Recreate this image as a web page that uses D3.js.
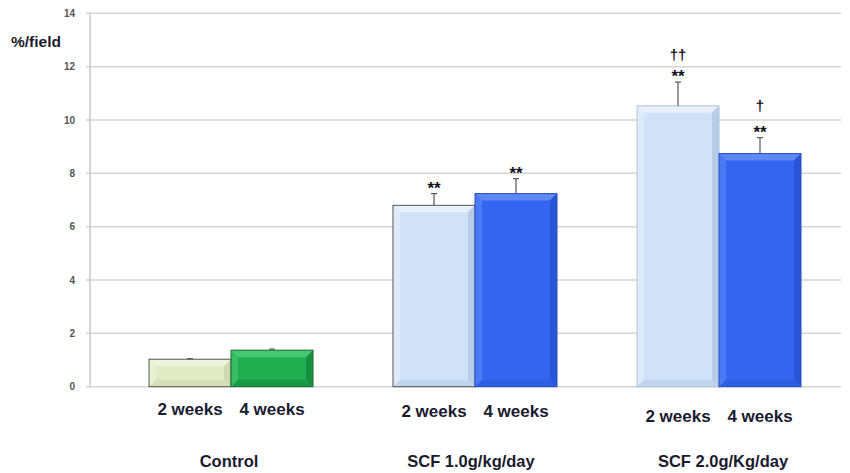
<!DOCTYPE html>
<html><head><meta charset="utf-8">
<script src="https://cdn.jsdelivr.net/npm/d3@7"></script>
<style>body{margin:0;background:#fff}svg{display:block;font-family:Arial,"Liberation Sans",sans-serif}</style>
</head><body>
<svg id="c" width="850" height="473"></svg>
<script>
const groups = ["Control", "SCF 1.0g/kg/day", "SCF 2.0g/Kg/day"];
const subgroups = ["2 weeks", "4 weeks"];
const week2 = [1.03, 6.8, 10.53];
const week4 = [1.37, 7.24, 8.74];
const err2 = [0.02, 0.44, 0.89];
const err4 = [0.04, 0.56, 0.6];
const notes2 = [[], ["**"], ["**", "††"]];
const notes4 = [[], ["**"], ["**", "†"]];
const yTicks = [0, 2, 4, 6, 8, 10, 12, 14];
const yLabel = "%/field";

const palette = {
  "Control|2 weeks": {main:"#e2ebc5", top:"#eff5dc", side:"#cfd9b0", bot:"#d6dfb8", stroke:"#555"},
  "Control|4 weeks": {main:"#1fae50", top:"#48c873", side:"#178f40", bot:"#1a9a46", stroke:"#1a6b36"},
  "SCF 1.0g/kg/day|2 weeks": {main:"#d0e1f8", top:"#e8f0fc", side:"#b8cbe8", bot:"#c2d4ee", stroke:"#555"},
  "SCF 1.0g/kg/day|4 weeks": {main:"#3465f0", top:"#5e88f6", side:"#2a55d4", bot:"#2f5de2", stroke:"#2a50c0"},
  "SCF 2.0g/Kg/day|2 weeks": {main:"#d0e1f8", top:"#e8f0fc", side:"#b8cbe8", bot:"#c2d4ee", stroke:"#b0c4e0"},
  "SCF 2.0g/Kg/day|4 weeks": {main:"#3465f0", top:"#5e88f6", side:"#2a55d4", bot:"#2f5de2", stroke:"#2a50c0"}
};

const data = [];
groups.forEach((g, i) => {
  data.push({g, s: subgroups[0], v: week2[i], e: err2[i], notes: notes2[i]});
  data.push({g, s: subgroups[1], v: week4[i], e: err4[i], notes: notes4[i]});
});

const svg = d3.select("#c");
const y = d3.scaleLinear().domain([0, 14]).range([386.7, 13.3]);
const x0 = d3.scaleBand().domain(groups).range([109, 841]).padding(0);
const x1 = d3.scaleBand().domain(subgroups).range([40, 204]).padding(0);

svg.append("g").selectAll("line").data(yTicks).join("line")
  .attr("x1", 86).attr("x2", 841)
  .attr("y1", d => y(d)).attr("y2", d => y(d))
  .attr("stroke", "#d4d4d4").attr("stroke-width", 1.5);
svg.append("line").attr("x1", 90).attr("x2", 90).attr("y1", y(14)).attr("y2", y(0))
  .attr("stroke", "#c8c8c8").attr("stroke-width", 1.5);
const yAxis = d3.axisLeft(y).tickValues(yTicks).tickSize(0).tickPadding(15);
const ga = svg.append("g").attr("transform", "translate(90,0)").call(yAxis);
ga.select(".domain").remove();
ga.selectAll("text").attr("font-size", 10).attr("font-weight", "bold").attr("fill", "#555")
  .attr("font-family", "Arial, 'Liberation Sans', sans-serif");

svg.append("text").attr("x", 11).attr("y", 47).text(yLabel)
  .attr("font-size", 15.5).attr("font-weight", "bold").attr("fill", "#1b1b30");

const bev = 7;
const bars = svg.append("g").selectAll("g").data(data).join("g");
bars.each(function(d) {
  const gsel = d3.select(this);
  const c = palette[d.g + "|" + d.s];
  const xl = x0(d.g) + x1(d.s), w = x1.bandwidth();
  const yt = y(d.v), yb = y(0), xr = xl + w;
  gsel.append("rect").attr("x", xl).attr("y", yt).attr("width", w).attr("height", yb - yt).attr("fill", c.main);
  gsel.append("polygon").attr("points", [[xl,yt],[xr,yt],[xr-bev,yt+bev],[xl+bev,yt+bev]].join(" ")).attr("fill", c.top);
  gsel.append("polygon").attr("points", [[xr,yt],[xr,yb],[xr-bev,yb-bev],[xr-bev,yt+bev]].join(" ")).attr("fill", c.side);
  gsel.append("polygon").attr("points", [[xl,yb],[xr,yb],[xr-bev,yb-bev],[xl+bev,yb-bev]].join(" ")).attr("fill", c.bot);
  gsel.append("polygon").attr("points", [[xl,yt],[xl+bev,yt+bev],[xl+bev,yb-bev],[xl,yb]].join(" ")).attr("fill", c.top).attr("opacity", 0.6);
  gsel.append("rect").attr("x", xl).attr("y", yt).attr("width", w).attr("height", yb - yt)
    .attr("fill", "none").attr("stroke", c.stroke).attr("stroke-width", 1);
  const cx = xl + w / 2;
  gsel.append("line").attr("x1", cx).attr("x2", cx).attr("y1", yt).attr("y2", y(d.v + d.e))
    .attr("stroke", "#555").attr("stroke-width", 1.2);
  gsel.append("line").attr("x1", cx - 3).attr("x2", cx + 3).attr("y1", y(d.v + d.e)).attr("y2", y(d.v + d.e))
    .attr("stroke", "#555").attr("stroke-width", 1.2);
  const offs = [9, 28];
  d.notes.forEach((t, k) => {
    const off = (d.g === groups[2] && d.s === subgroups[1] && k === 1) ? 33 : offs[k];
    const star = t.startsWith("*");
    gsel.append("text").attr("x", cx).attr("y", y(d.v + d.e) - off + (star ? 9 : 6)).attr("text-anchor", "middle")
      .attr("font-size", star ? 17 : 15).attr("font-weight", "bold").attr("fill", "#111122").text(t);
  });
});

const subY = [409, 411, 416];
groups.forEach((g, i) => {
  subgroups.forEach(s => {
    svg.append("text").attr("x", x0(g) + x1(s) + x1.bandwidth() / 2).attr("y", subY[i])
      .attr("dy", "0.35em").attr("text-anchor", "middle")
      .attr("font-size", 17).attr("font-weight", "bold").attr("fill", "#1b1b30").text(s);
  });
});
const grpDx = [-2, -4, 4];
groups.forEach((g, i) => {
  svg.append("text").attr("x", x0(g) + x0.bandwidth() / 2 + grpDx[i]).attr("y", 461)
    .attr("dy", "0.35em").attr("text-anchor", "middle")
    .attr("font-size", 16.5).attr("font-weight", "bold").attr("fill", "#1b1b30").text(g);
});
</script>
</body></html>
